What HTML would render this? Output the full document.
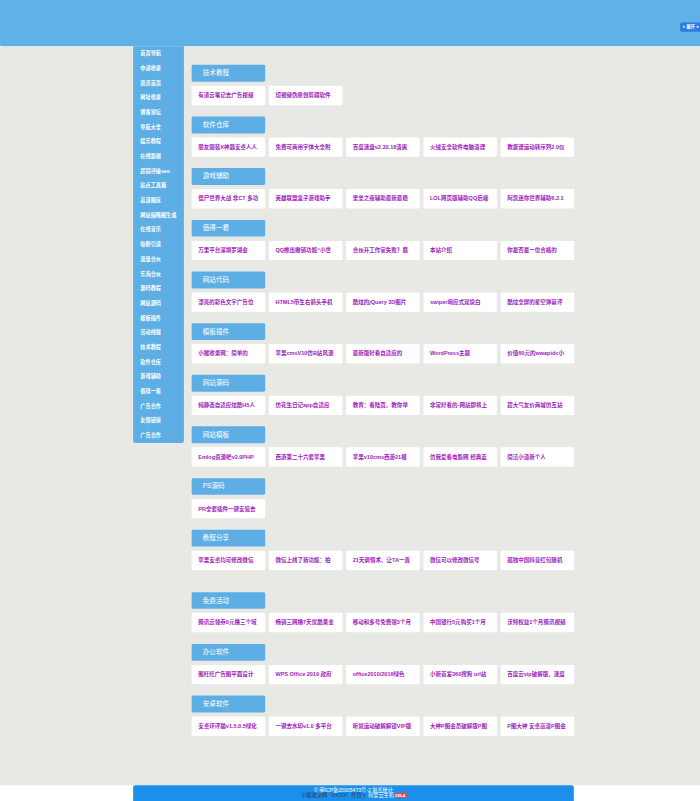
<!DOCTYPE html>
<html lang="zh-CN">
<head>
<meta charset="utf-8">
<title>小猴收录网</title>
<style>
html,body{margin:0;padding:0;background:#fff;}
body{width:700px;height:801px;overflow:hidden;position:relative;font-family:"Liberation Sans","Noto Sans CJK SC",sans-serif;}
#page{position:absolute;left:0;top:0;width:1903px;height:2178px;transform:scale(0.367840);transform-origin:0 0;overflow:hidden;background:#fff;color:#fff;}
#bg{position:absolute;left:0;top:0;width:1903px;height:2135.17px;background:#e8e9e4;}
#top{position:absolute;left:0;top:0;width:1903px;height:125.87px;background:#60b1e5;border-radius:0 0 0 6px;}
#hl{position:absolute;left:0;top:125.87px;width:1903px;height:2.4px;background:rgba(255,255,255,.55);}
#open{position:absolute;left:1849.44px;top:61.17px;width:90px;height:25.01px;line-height:25.01px;background:#2b7be6;border-radius:5px 0 0 5px;font-size:12px;font-weight:bold;white-space:nowrap;padding-left:6px;box-sizing:border-box;overflow:hidden;color:#fff;}
#side{position:absolute;left:361.57px;top:125.87px;width:138.92px;background:#5daee4;border-radius:0 0 6px 6px;margin:0;padding:0;list-style:none;}
#side li{height:39.95px;line-height:39.95px;padding-left:20px;font-size:14px;font-weight:bold;white-space:nowrap;overflow:hidden;color:#fff;}
.sh{position:absolute;margin:0;left:520.88px;width:200.09px;height:45.67px;line-height:45.67px;background:#5daee4;border-radius:4px;font-size:18px;font-weight:normal;padding-left:30px;box-sizing:border-box;white-space:nowrap;overflow:hidden;color:#fff;}
.c{position:absolute;width:199.82px;height:52.74px;line-height:52.74px;background:#fff;border-radius:3px;font-size:15px;font-weight:bold;padding-left:18px;box-sizing:border-box;white-space:nowrap;overflow:hidden;text-decoration:none;color:#9d1bb9;}
#foot{position:absolute;left:361.57px;top:2135.17px;width:1198.89px;height:60px;background:#1b8fe9;border-radius:6px 6px 0 0;text-align:center;font-size:14px;line-height:13px;padding-top:8px;box-sizing:border-box;white-space:nowrap;overflow:hidden;color:#fff;}
#foot p{margin:0;}
#foot span{color:#24405b;}
#foot b{font-size:10px;color:#fff;position:relative;z-index:1;}
#badge{position:absolute;left:1073.2px;top:2156.17px;width:35px;height:13px;background:#e8483f;border-radius:2px;}
</style>
</head>
<body>
<div id="page">
<div id="bg"></div>
<div id="top"></div>
<div id="hl"></div>
<ul id="side">
<li>首页导航</li>
<li>申请收录</li>
<li>资讯首页</li>
<li>网址收录</li>
<li>博客论坛</li>
<li>导航大全</li>
<li>娱乐教程</li>
<li>在线影视</li>
<li>超简评级seo</li>
<li>站点工具箱</li>
<li>高清图床</li>
<li>网站缩略图生成</li>
<li>在线音乐</li>
<li>吸粉引流</li>
<li>流量合伙</li>
<li>乐淘合伙</li>
<li>源码教程</li>
<li>网站源码</li>
<li>模板插件</li>
<li>活动线报</li>
<li>技术教程</li>
<li>软件仓库</li>
<li>游戏辅助</li>
<li>值得一看</li>
<li>广告合作</li>
<li>友情链接</li>
<li>广告合作</li>
</ul>
<h3 class="sh" style="top:176.44px">技术教程</h3>
<a class="c" style="left:520.88px;top:233.25px">有道云笔记去广告视频</a>
<a class="c" style="left:730.89px;top:233.25px">短视频伪原创剪辑软件</a>
<h3 class="sh" style="top:316.85px">软件仓库</h3>
<a class="c" style="left:520.88px;top:373.67px">朋友圈装X神器安卓人人</a>
<a class="c" style="left:730.89px;top:373.67px">免费可商用字体大全附</a>
<a class="c" style="left:940.9px;top:373.67px">百度速盘v2.30.18清爽</a>
<a class="c" style="left:1150.91px;top:373.67px">火绒安全软件电脑清理</a>
<a class="c" style="left:1360.92px;top:373.67px">教歌谱运动转序列2.0仪</a>
<h3 class="sh" style="top:457.26px">游戏辅助</h3>
<a class="c" style="left:520.88px;top:514.08px">僵尸世界大战 非CT 多功</a>
<a class="c" style="left:730.89px;top:514.08px">英雄联盟盒子游戏助手</a>
<a class="c" style="left:940.9px;top:514.08px">堡垒之夜辅助最新最稳</a>
<a class="c" style="left:1150.91px;top:514.08px">LOL网页版辅助QQ后端</a>
<a class="c" style="left:1360.92px;top:514.08px">阿凯迷你世界辅助6.2.1</a>
<h3 class="sh" style="top:597.68px">值得一看</h3>
<a class="c" style="left:520.88px;top:654.5px">万里平台深圳罗湖会</a>
<a class="c" style="left:730.89px;top:654.5px">QQ推出撤销功能“小世</a>
<a class="c" style="left:940.9px;top:654.5px">合伙开工作室失败？鹿</a>
<a class="c" style="left:1150.91px;top:654.5px">本站介绍</a>
<a class="c" style="left:1360.92px;top:654.5px">你是否是一位合格的</a>
<h3 class="sh" style="top:738.09px">网站代码</h3>
<a class="c" style="left:520.88px;top:794.91px">漂亮的彩色文字广告位</a>
<a class="c" style="left:730.89px;top:794.91px">HTML5带生右箭头手机</a>
<a class="c" style="left:940.9px;top:794.91px">酷炫的jQuery 3D图片</a>
<a class="c" style="left:1150.91px;top:794.91px">swiper响应式双说白</a>
<a class="c" style="left:1360.92px;top:794.91px">酷炫全屏的星空弹幕评</a>
<h3 class="sh" style="top:878.51px">模板插件</h3>
<a class="c" style="left:520.88px;top:935.32px">小猴收录网：简单的</a>
<a class="c" style="left:730.89px;top:935.32px">苹果cmsV10仿B站风源</a>
<a class="c" style="left:940.9px;top:935.32px">最新版好看自适应的</a>
<a class="c" style="left:1150.91px;top:935.32px">WordPress主题</a>
<a class="c" style="left:1360.92px;top:935.32px">价值60元的wwapidc小</a>
<h3 class="sh" style="top:1018.92px">网站源码</h3>
<a class="c" style="left:520.88px;top:1075.74px">纯静态自适应炫酷H5人</a>
<a class="c" style="left:730.89px;top:1075.74px">仿花生日记app自适应</a>
<a class="c" style="left:940.9px;top:1075.74px">教育：看陆页、教你举</a>
<a class="c" style="left:1150.91px;top:1075.74px">非常好看的-网站即将上</a>
<a class="c" style="left:1360.92px;top:1075.74px">超大气友价商城仿互站</a>
<h3 class="sh" style="top:1159.33px">网站模板</h3>
<a class="c" style="left:520.88px;top:1216.15px">Emlog资源吧v2.0PHP</a>
<a class="c" style="left:730.89px;top:1216.15px">西游第二十六套苹果</a>
<a class="c" style="left:940.9px;top:1216.15px">苹果v10cms西游21模</a>
<a class="c" style="left:1150.91px;top:1216.15px">仿我爱看电影网 经典蓝</a>
<a class="c" style="left:1360.92px;top:1216.15px">简洁小清新个人</a>
<h3 class="sh" style="top:1299.75px">PS源码</h3>
<a class="c" style="left:520.88px;top:1356.57px">PR全套插件一键安装去</a>
<h3 class="sh" style="top:1440.16px">教程分享</h3>
<a class="c" style="left:520.88px;top:1496.98px">苹果安卓均可修改微信</a>
<a class="c" style="left:730.89px;top:1496.98px">微信上线了新功能：拍</a>
<a class="c" style="left:940.9px;top:1496.98px">21天调情术、让TA一直</a>
<a class="c" style="left:1150.91px;top:1496.98px">微信可以修改微信号</a>
<a class="c" style="left:1360.92px;top:1496.98px">孤独中国抖音红包随机</a>
<h3 class="sh" style="top:1609.67px">免费活动</h3>
<a class="c" style="left:520.88px;top:1666.48px">腾讯云领券0元撸三个域</a>
<a class="c" style="left:730.89px;top:1666.48px">畅销三网撸7天优酷黄金</a>
<a class="c" style="left:940.9px;top:1666.48px">移动和多号免费领3个月</a>
<a class="c" style="left:1150.91px;top:1666.48px">中国银行5元购买1个月</a>
<a class="c" style="left:1360.92px;top:1666.48px">沃特权益1个月腾讯视频</a>
<h3 class="sh" style="top:1750.76px">办公软件</h3>
<a class="c" style="left:520.88px;top:1807.58px">图旺旺广告图平面设计</a>
<a class="c" style="left:730.89px;top:1807.58px">WPS Office 2019 政府</a>
<a class="c" style="left:940.9px;top:1807.58px">office2010/2016绿色</a>
<a class="c" style="left:1150.91px;top:1807.58px">小新首发360搜狗 url站</a>
<a class="c" style="left:1360.92px;top:1807.58px">百度云vip破解版、速度</a>
<h3 class="sh" style="top:1891.17px">安卓软件</h3>
<a class="c" style="left:520.88px;top:1947.99px">安卓环评猫v1.5.0.5绿化</a>
<a class="c" style="left:730.89px;top:1947.99px">一键去水印v1.0 多平台</a>
<a class="c" style="left:940.9px;top:1947.99px">听说运动破解解锁VIP版</a>
<a class="c" style="left:1150.91px;top:1947.99px">大神P图会员破解版P图</a>
<a class="c" style="left:1360.92px;top:1947.99px">P图大神 安卓高清P图会</a>
<div id="open">« 展开 «</div>
<div id="foot"><p>© 闽ICP备20005473号-2 站长统计</p><p><span>小猴收录网（XXXX）托管于</span> 阿里云主机 <b>DNLA</b></p></div>
<div id="badge"></div>
</div>
</body>
</html>
